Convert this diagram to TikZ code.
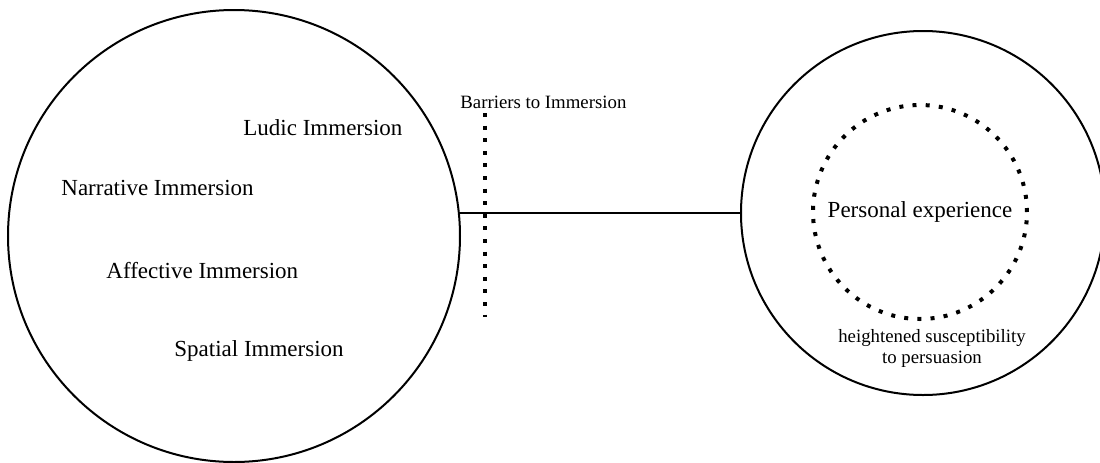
\documentclass[tikz,border=0pt]{standalone}
\usepackage{fontspec}
\setmainfont{Liberation Serif}
\begin{document}
\begin{tikzpicture}[x=0.5pt,y=-0.5pt,
  ring/.style={draw,circle,line width=1pt,inner sep=0pt,outer sep=0pt},
  dotring/.style={draw,circle,line width=2pt,dash pattern=on 2pt off 4.6pt,inner sep=0pt},
  lbl/.style={inner sep=0pt,font=\fontsize{11.5}{13}\selectfont,anchor=west},
  small/.style={inner sep=0pt,font=\fontsize{9.4}{10.5}\selectfont,align=center}]
\useasboundingbox (0,0) rectangle (1100,462);
\clip (0,0) rectangle (1100,462);
\node[ring,minimum size=226pt] (L) at (234,236) {};
\node[ring,minimum size=182pt] (R) at (923,213) {};
\node[dotring,minimum size=107pt,font=\fontsize{11.5}{13}\selectfont] (P) at (920,212) {Personal experience};
\node[lbl] (ludic) at (243,128) {Ludic Immersion};
\node[lbl] (narr) at (61,188) {Narrative Immersion};
\node[lbl] (aff) at (106,271) {Affective Immersion};
\node[lbl] (spat) at (174,351) {Spatial Immersion};
\node[small,anchor=west] (bar) at (460,102) {Barriers to Immersion};
\node[small] (sus) at (932,348) {heightened susceptibility\\to persuasion};
\coordinate (bt) at (485,113);
\coordinate (bb) at (485,317);
\draw[line width=2pt,dash pattern=on 2pt off 4.3pt] (bt) -- (bb);
\draw[line width=1pt] (L.east |- R.west) -- (R.west);
\end{tikzpicture}
\end{document}
